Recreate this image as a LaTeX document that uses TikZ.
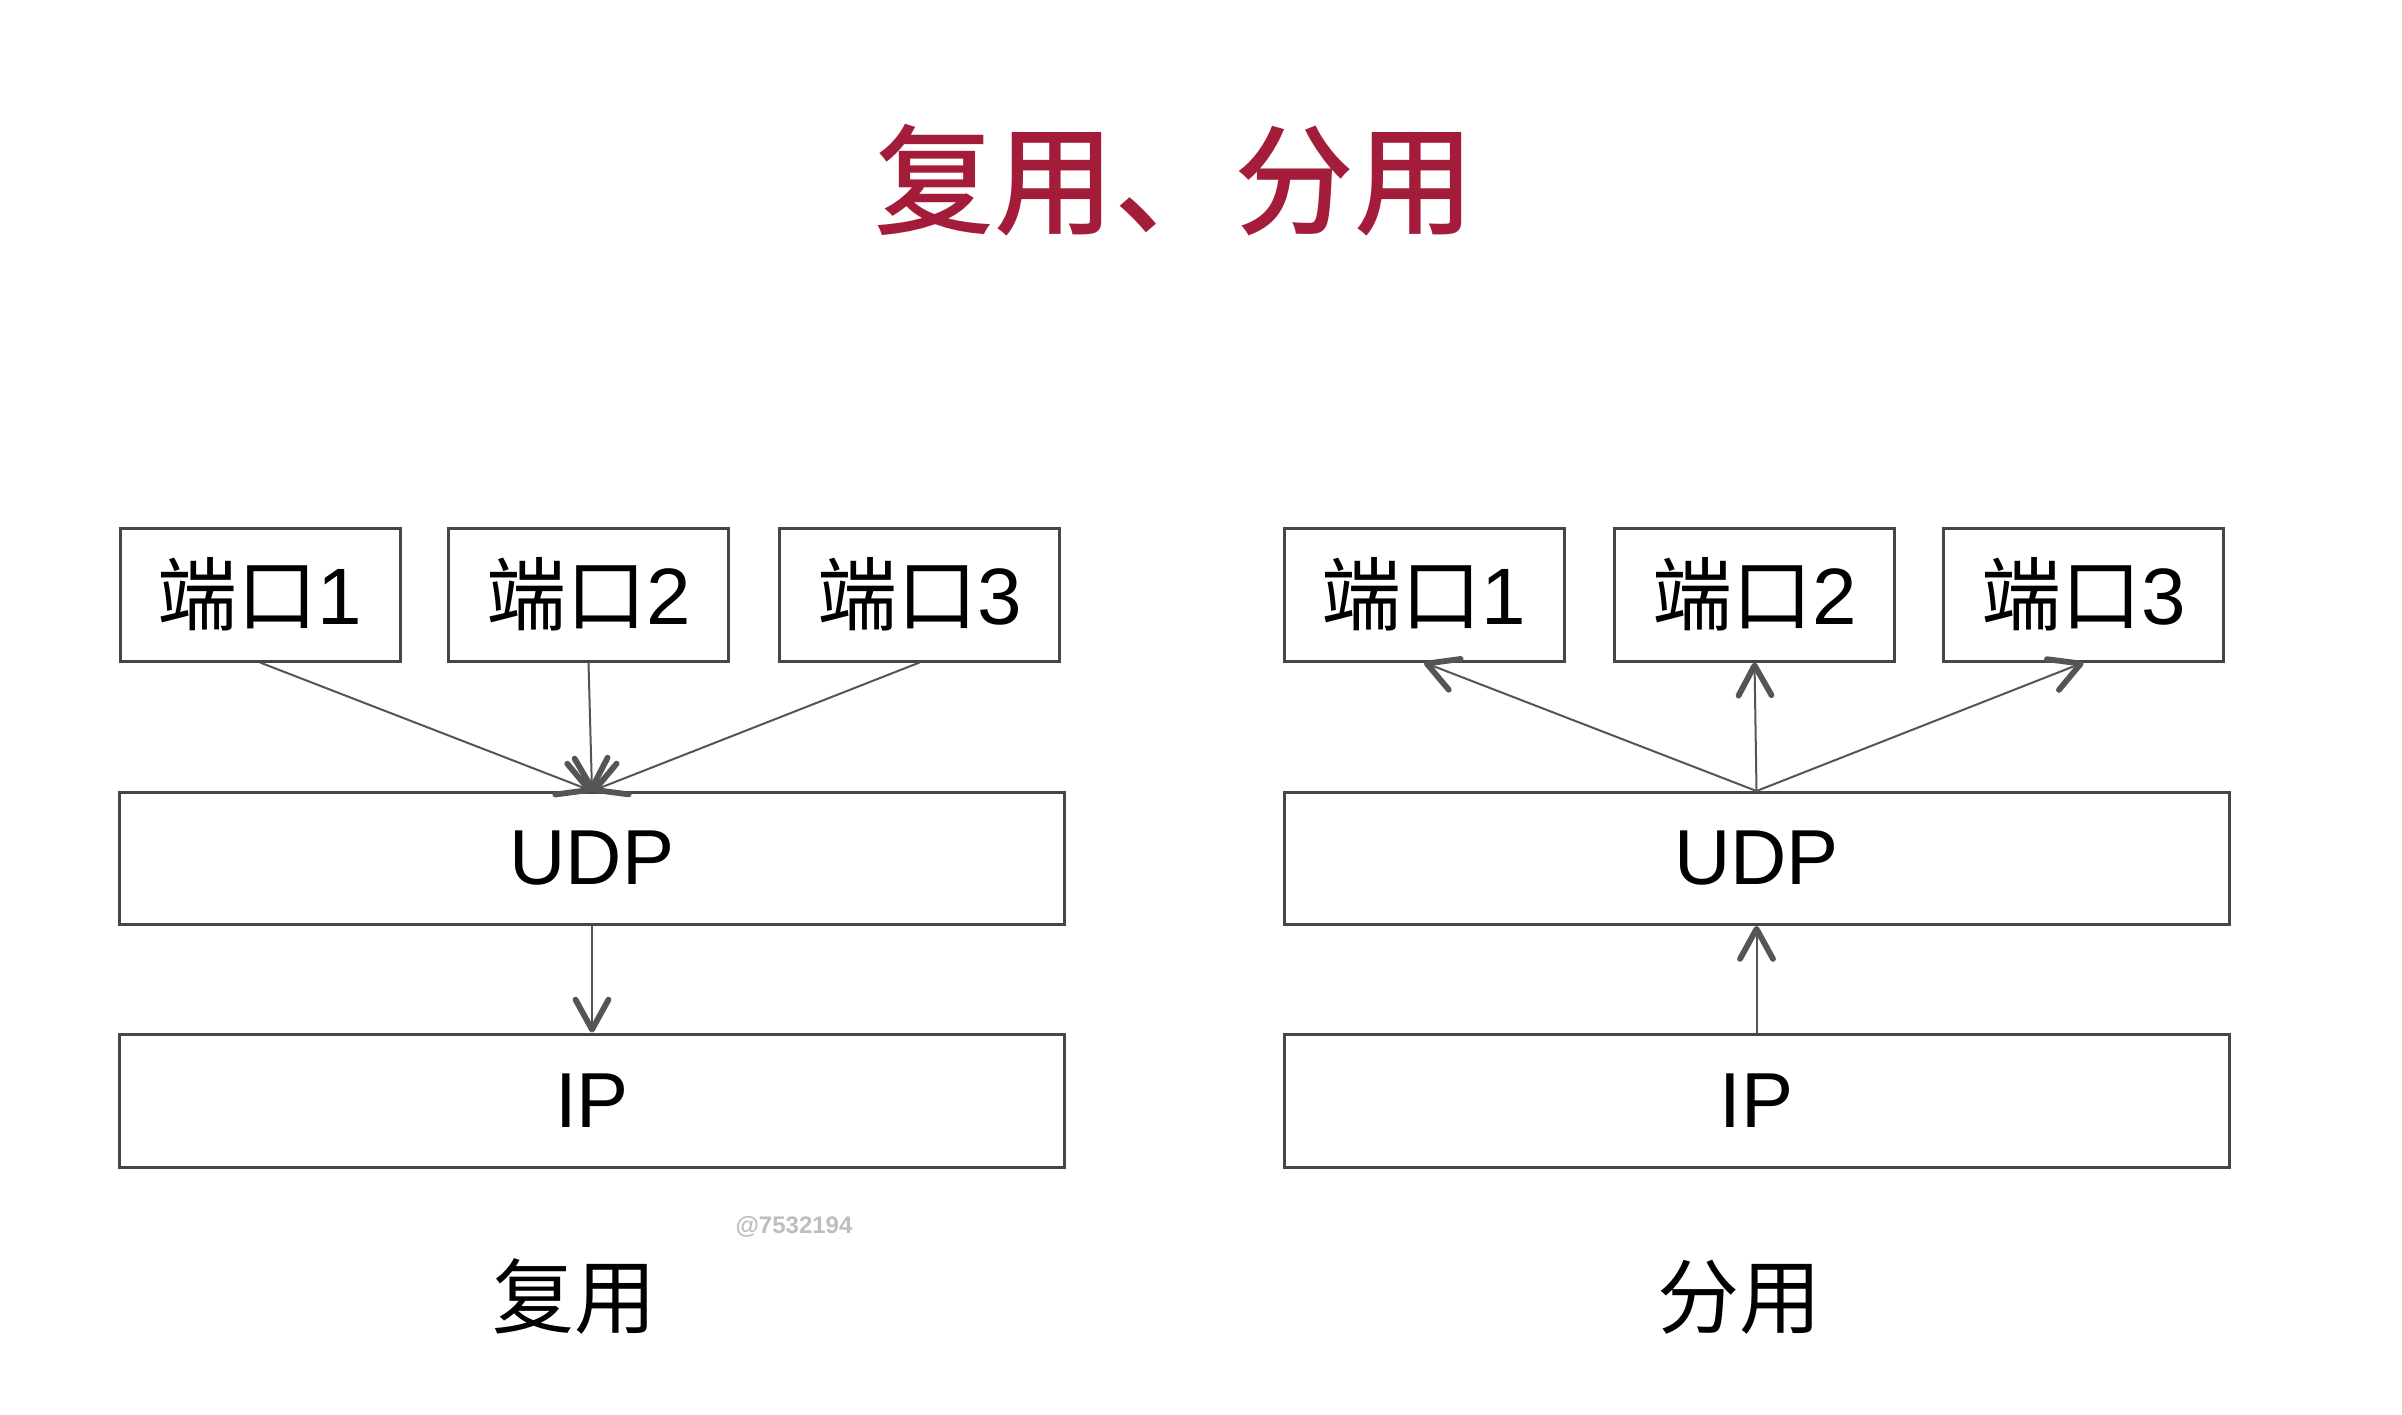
\documentclass[tikz,border=0pt]{standalone}
\usepackage{fontspec}
\setmainfont{Liberation Sans}
\newfontfamily\cjk{Noto Sans CJK SC}
\newfontfamily\cjkmed{Noto Sans CJK SC Medium}
\usetikzlibrary{arrows.meta}
\definecolor{titlered}{RGB}{163,28,58}
\definecolor{boxgray}{RGB}{70,70,70}
\definecolor{linegray}{RGB}{85,85,85}
\definecolor{wmgray}{RGB}{190,190,190}
\tikzset{
  portbox/.style={draw=boxgray, line width=1.5pt, minimum width=140pt, minimum height=66.5pt, inner sep=0pt, font=\fontsize{40pt}{40pt}\selectfont},
  layerbox/.style={draw=boxgray, line width=1.5pt, minimum width=472.5pt, minimum height=66pt, inner sep=0pt, font=\fontsize{39pt}{39pt}\selectfont},
  conn/.style={draw=linegray, line width=1pt, -{Straight Barb[length=15pt,width=16.5pt,line width=2.9pt,round]}},
  caption/.style={font=\cjk\fontsize{41pt}{41pt}\selectfont, inner sep=0pt},
}
\begin{document}
\begin{tikzpicture}[x=0.5pt,y=-0.5pt]
\useasboundingbox[fill=white] (0,0) rectangle (2402,1414);
% title
\node[text=titlered, font=\cjkmed\fontsize{60pt}{60pt}\selectfont, inner sep=0pt] (title) at (1174,180) {复用、分用};
% left: multiplexing
\node[portbox] (p1) at (260,594.5) {{\cjk 端口}1};
\node[portbox] (p2) at (588.5,594.5) {{\cjk 端口}2};
\node[portbox] (p3) at (919.5,594.5) {{\cjk 端口}3};
\node[layerbox] (udpL) at (592,858.5) {UDP};
\node[layerbox, minimum height=66.5pt] (ipL) at (592,1100.5) {IP};
\draw[conn] (p1.south) -- (udpL.north);
\draw[conn] (p2.south) -- (udpL.north);
\draw[conn] (p3.south) -- (udpL.north);
\draw[conn] (udpL.south) -- (ipL.north);
% right: demultiplexing
\node[portbox] (q1) at (1424,594.5) {{\cjk 端口}1};
\node[portbox] (q2) at (1754.5,594.5) {{\cjk 端口}2};
\node[portbox] (q3) at (2083.5,594.5) {{\cjk 端口}3};
\node[layerbox] (udpR) at (1756.5,858.5) {UDP};
\node[layerbox, minimum height=66.5pt] (ipR) at (1756.5,1100.5) {IP};
\draw[conn] (udpR.north) -- (q1.south);
\draw[conn] (udpR.north) -- (q2.south);
\draw[conn] (udpR.north) -- (q3.south);
\draw[conn] (ipR.north) -- (udpR.south);
% captions
\node[caption] (capL) at (574,1297) {复用};
\node[caption] (capR) at (1739,1297) {分用};
% watermark
\node[text=wmgray, font=\bfseries\fontsize{12pt}{12pt}\selectfont, inner sep=0pt] (wm) at (794,1227) {@7532194};
\end{tikzpicture}
\end{document}
